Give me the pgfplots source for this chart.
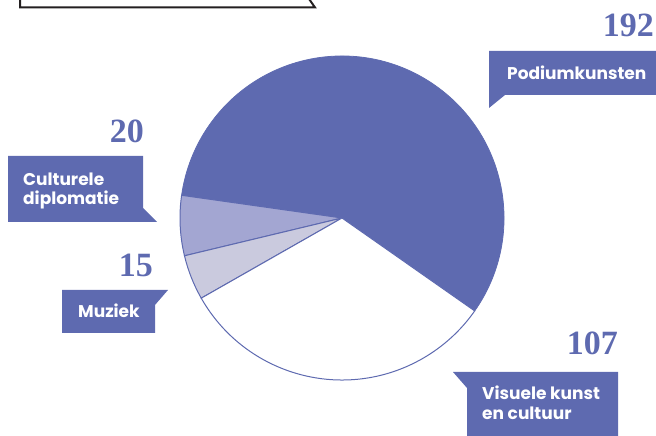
\documentclass[border=0pt]{standalone}
\usepackage{pgfplots}
\usepackage{pgfplotstable}
\pgfplotsset{compat=1.18}
\usepackage{fontspec}
\newfontfamily\labfont{Poppins}
\newfontfamily\numfont{Liberation Serif}

\definecolor{pieblue}{RGB}{94,106,176}
\definecolor{pielight}{RGB}{163,166,210}
\definecolor{pielighter}{RGB}{202,202,222}
\definecolor{boxline}{RGB}{35,31,32}

% slices, counter-clockwise from the start angle
\pgfplotstableread[col sep=comma]{
label,value
Podiumkunsten,192
Culturele diplomatie,20
Muziek,15
Visuele kunst en cultuur,107
}\piedata

\def\piecx{342}
\def\piecy{218}
\def\pierad{162pt}
\def\piestart{-35}

\newcommand\slice[2]{%
  \draw[#2] (axis cs:\piecx,\piecy) -- ++(\csname pieA#1\endcsname:\pierad)
    arc[start angle=\csname pieA#1\endcsname, end angle=\csname pieB#1\endcsname, radius=\pierad] -- cycle;}

\begin{document}
\begin{tikzpicture}
\path[use as bounding box, clip] (0,0) rectangle (656pt,436pt);

% angles from the table
\pgfplotstablegetrowsof{\piedata}
\pgfmathtruncatemacro\nrows{\pgfplotsretval-1}
\xdef\total{0}
\foreach \i in {0,...,\nrows}{%
  \pgfplotstablegetelem{\i}{value}\of\piedata
  \pgfmathparse{\total+\pgfplotsretval}\xdef\total{\pgfmathresult}}
\xdef\acur{\piestart}
\foreach \i in {0,...,\nrows}{%
  \pgfplotstablegetelem{\i}{value}\of\piedata
  \pgfmathparse{\acur+\pgfplotsretval/\total*360}%
  \expandafter\xdef\csname pieA\i\endcsname{\acur}%
  \expandafter\xdef\csname pieB\i\endcsname{\pgfmathresult}%
  \xdef\acur{\pgfmathresult}}

\begin{axis}[
at={(0,0)}, anchor=origin,
x=1pt, y=1pt,
xmin=0, xmax=656, ymin=0, ymax=436,
hide axis, clip=false,
]
\slice{0}{fill=pieblue, draw=pieblue, line width=0.8pt}
\slice{1}{fill=pielight, draw=pieblue, line width=1pt}
\slice{2}{fill=pielighter, draw=pieblue, line width=1pt}
\slice{3}{fill=white, draw=pieblue, line width=1pt}

% top box
\draw[boxline, line width=2pt] (axis cs:20,440) -- (axis cs:20,428.5) -- (axis cs:315,428.5) -- (axis cs:307,440);

% callouts
\fill[pieblue] (axis cs:489,385) -- (axis cs:660,385) -- (axis cs:660,341) -- (axis cs:505,341) -- (axis cs:489,328) -- cycle;
\fill[pieblue] (axis cs:8,280) -- (axis cs:143,280) -- (axis cs:143,228) -- (axis cs:157,214) -- (axis cs:8,214) -- cycle;
\fill[pieblue] (axis cs:62,146) -- (axis cs:168,146) -- (axis cs:155,131) -- (axis cs:155,103) -- (axis cs:62,103) -- cycle;
\fill[pieblue] (axis cs:453,64) -- (axis cs:618,64) -- (axis cs:618,-4) -- (axis cs:467,-4) -- (axis cs:467,48) -- cycle;

\begin{scope}[every node/.style={inner sep=0pt, text=white, font=\labfont\bfseries\fontsize{17}{19}\selectfont}]
\node[anchor=base west] at (axis cs:507,356) {Podiumkunsten};
\node[anchor=base west] at (axis cs:23,250) {Culturele};
\node[anchor=base west] at (axis cs:23,231) {diplomatie};
\node[anchor=base west] at (axis cs:78,118) {Muziek};
\node[anchor=base west] at (axis cs:482,36) {Visuele kunst};
\node[anchor=base west] at (axis cs:482,16) {en cultuur};
\end{scope}

\begin{scope}[every node/.style={inner sep=0pt, text=pieblue, font=\numfont\bfseries\fontsize{34}{34}\selectfont}]
\node[anchor=base east] at (axis cs:654,399) {192};
\node[anchor=base east] at (axis cs:144,293) {20};
\node[anchor=base east] at (axis cs:153,159) {15};
\node[anchor=base east] at (axis cs:618,81) {107};
\end{scope}
\end{axis}
\end{tikzpicture}
\end{document}
